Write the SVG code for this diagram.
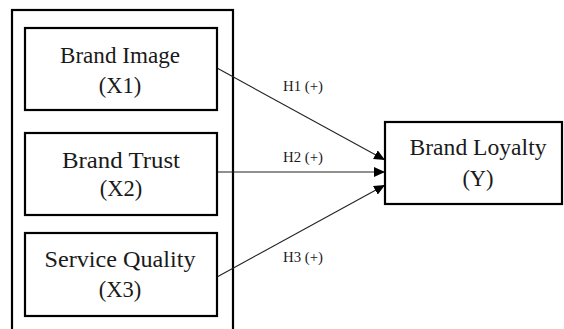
<svg xmlns="http://www.w3.org/2000/svg" width="564" height="329" viewBox="0 0 564 329">
<style>
.box{fill:#fff;stroke:#000;stroke-width:2.2}
.t{font-family:"Liberation Serif","Times New Roman",serif;font-size:22.5px;fill:#1a1a1a;text-anchor:middle}
.h{font-family:"Liberation Serif","Times New Roman",serif;font-size:14px;fill:#1a1a1a}
.c{stroke:#222;stroke-width:1.1;fill:none}
</style>
<defs>
<marker id="ah" markerWidth="12" markerHeight="10" refX="11" refY="5" orient="auto" markerUnits="userSpaceOnUse">
<path d="M0,0 L11,5 L0,10 Z" fill="#000"/>
</marker>
</defs>
<rect width="564" height="329" fill="#fff"/>
<g id="group">
<rect x="12" y="10" width="221" height="330" fill="none" stroke="#000" stroke-width="2.2"/>
</g>
<g id="connectors">
<line class="c" x1="217" y1="68" x2="385" y2="160" marker-end="url(#ah)"/>
<line class="c" x1="217" y1="172" x2="385" y2="172" marker-end="url(#ah)"/>
<line class="c" x1="217" y1="277" x2="385" y2="185" marker-end="url(#ah)"/>
<text class="h" x="283" y="91" textLength="40" lengthAdjust="spacingAndGlyphs">H1 (+)</text>
<text class="h" x="283" y="162" textLength="40" lengthAdjust="spacingAndGlyphs">H2 (+)</text>
<text class="h" x="283" y="262" textLength="40" lengthAdjust="spacingAndGlyphs">H3 (+)</text>
</g>
<g id="x1">
<rect class="box" x="25" y="28" width="192" height="82"/>
<text class="t" x="120" y="63" textLength="120" lengthAdjust="spacingAndGlyphs">Brand Image</text>
<text class="t" x="120" y="93">(X1)</text>
</g>
<g id="x2">
<rect class="box" x="25" y="133" width="192" height="82"/>
<text class="t" x="121" y="168" textLength="118" lengthAdjust="spacingAndGlyphs">Brand Trust</text>
<text class="t" x="121" y="196">(X2)</text>
</g>
<g id="x3">
<rect class="box" x="25" y="233" width="192" height="83"/>
<text class="t" x="120" y="267" textLength="151" lengthAdjust="spacingAndGlyphs">Service Quality</text>
<text class="t" x="120" y="297">(X3)</text>
</g>
<g id="y">
<rect class="box" x="385" y="122" width="177" height="82"/>
<text class="t" x="478" y="155" textLength="137" lengthAdjust="spacingAndGlyphs">Brand Loyalty</text>
<text class="t" x="478" y="186">(Y)</text>
</g>
</svg>
